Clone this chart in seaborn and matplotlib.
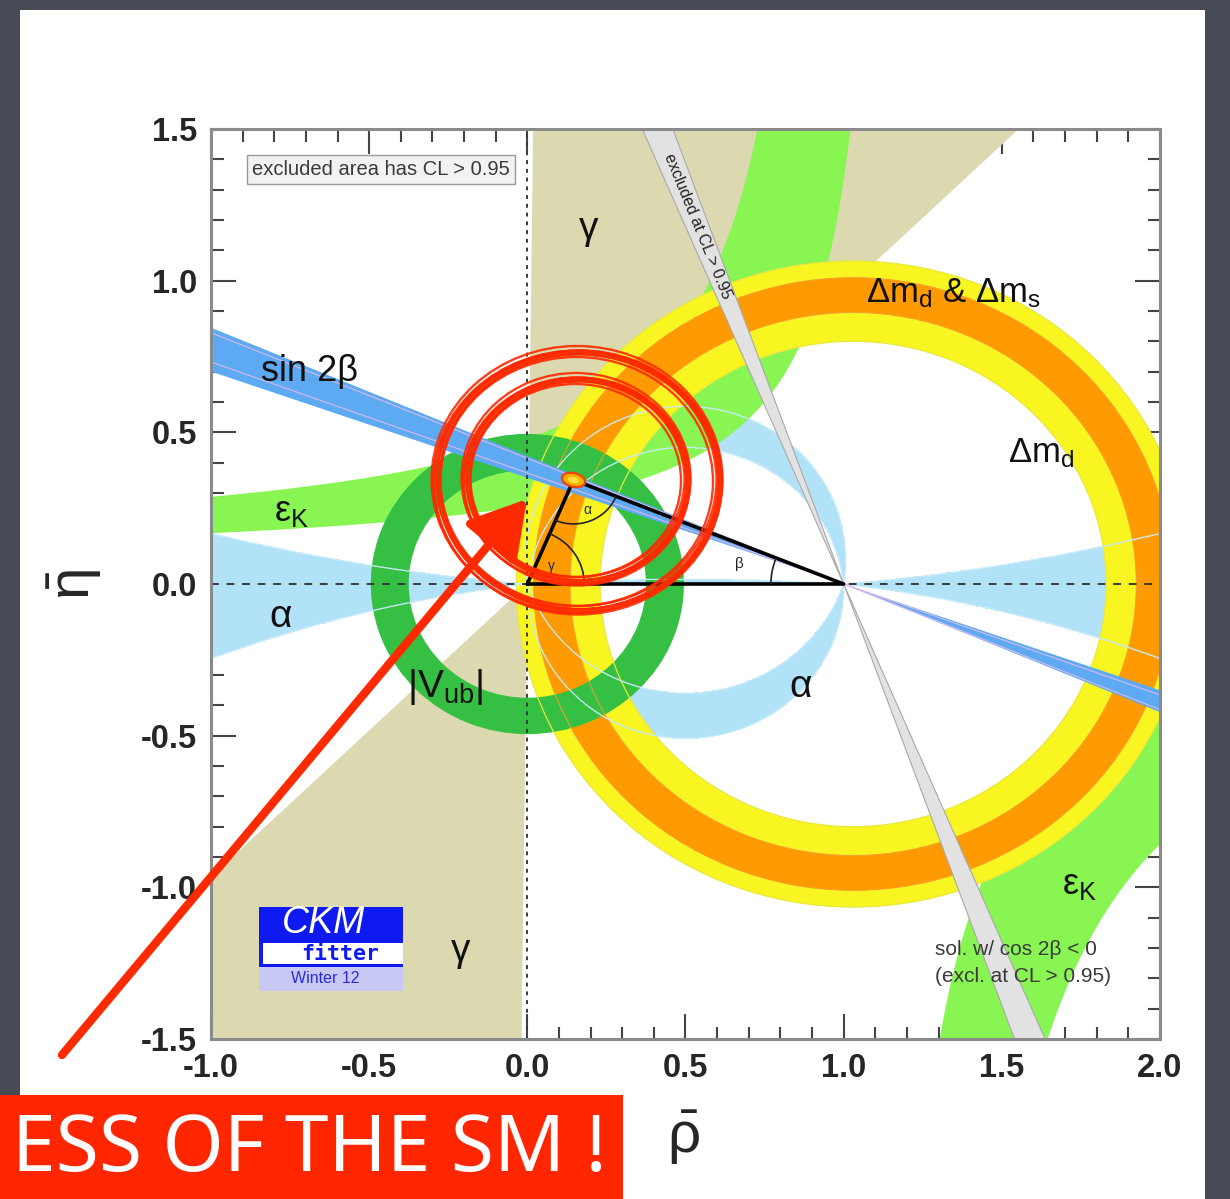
import numpy as np
import pandas as pd
import matplotlib
matplotlib.use("Agg")
import matplotlib.pyplot as plt
import seaborn as sns
from matplotlib.patches import Wedge, Rectangle, Ellipse, Polygon, Arc, Circle

# ---------------- constraint parameters in the (rho-bar, eta-bar) plane ----------------
gamma_deg = [44.0, 89.3]            # gamma wedge seen from (0,0)
alpha_upper_deg = [81.0, 96.0]      # alpha band for eta > 0
alpha_lower_deg = [89.0, 108.5]     # alpha band for eta < 0
alpha_axis_deg = [4.7, 6.8]         # alpha solutions along the real axis (above, below)
alpha_segment_deg = 176.5           # alpha solution just above the unitarity base
beta_deg = [19.3, 22.9]             # sin 2beta wedge from (1,0)
beta_inner_deg = [20.1, 22.5]       # inner sin 2beta contour lines
beta_alt_deg = [67.0, 70.2]         # cos 2beta < 0 solution (excluded)
dm_center = [1.03, 0.0]
dmd_radii = [0.80, 1.065]           # Delta m_d
dms_radii = [0.895, 1.01]           # Delta m_d & Delta m_s
vub_radii = [0.375, 0.495]          # |V_ub|
# eps_K band edges: eta = c / (a - rho) + b
ek_up_a = [1.0, 1.185]
ek_up_c = [0.383, 0.235]
ek_up_b = [0.096, 0.06]
ek_low_a = [1.05, 1.171]
ek_low_c = [0.38, 0.711]
apex = [0.146, 0.343]               # fitted apex of the unitarity triangle

x_ticks = [-1.0, -0.5, 0.0, 0.5, 1.0, 1.5, 2.0]
y_ticks = [-1.5, -1.0, -0.5, 0.0, 0.5, 1.0, 1.5]

# ---------------- colours ----------------
c_gamma = "#DCD9B1"
c_alpha = "#B2E2F8"
c_ek = "#88F552"
c_dmd = "#F8F520"
c_dms = "#FF9A00"
c_vub = "#35C043"
c_s2b = "#5DAAF2"
c_excl = "#E2E2E2"
c_red = "#FF2A00"

sns.set_theme(style="ticks")
plt.rcParams["font.family"] = ["Liberation Sans", "DejaVu Sans"]
plt.rcParams["mathtext.fontset"] = "custom"
plt.rcParams["mathtext.rm"] = "Liberation Sans"
plt.rcParams["mathtext.it"] = "Liberation Sans"
plt.rcParams["mathtext.bf"] = "Liberation Sans:bold"
plt.rcParams["axes.unicode_minus"] = False

W, H = 1230, 1199
fig = plt.figure(figsize=(W / 100, H / 100), dpi=100, facecolor="#464B56")
fig.patches.append(Rectangle((20 / W, 0), 1185 / W, 1189 / H, transform=fig.transFigure,
                             facecolor="white", edgecolor="none", zorder=-10))

ax = fig.add_axes([211 / W, 1 - 1039 / H, 949 / W, 910 / H])
ax.set_xlim(-1, 2)
ax.set_ylim(-1.5, 1.5)
ax.set_facecolor("white")

R = 6.0
# gamma: double wedge through the origin
g1, g2 = np.radians(gamma_deg)
for s in (1, -1):
    ax.add_patch(Polygon([(0, 0), (s * R * np.cos(g1), s * R * np.sin(g1)),
                          (s * R * np.cos(g2), s * R * np.sin(g2))],
                         closed=True, facecolor=c_gamma, edgecolor="none", zorder=1))

# alpha: angle at (rho, eta) seen from (0,0) and (1,0)
rr, ee = np.meshgrid(np.linspace(-1, 2, 1400), np.linspace(-1.5, 1.5, 1400))
theta = np.degrees(np.arctan2(np.abs(ee), ee ** 2 - rr * (1 - rr)))
up = ee >= 0
mask = ((up & (theta >= alpha_upper_deg[0]) & (theta <= alpha_upper_deg[1]))
        | (~up & (theta >= alpha_lower_deg[0]) & (theta <= alpha_lower_deg[1]))
        | (up & (theta <= alpha_axis_deg[0]))
        | (~up & (theta <= alpha_axis_deg[1]))
        | (up & (theta >= alpha_segment_deg)))
ax.contourf(rr, ee, mask.astype(float), levels=[0.5, 1.5], colors=[c_alpha], zorder=2)

# eps_K: hyperbolic band, both branches
rho = np.linspace(-1.05, 2.05, 4000)


def ek_curve(a, c, b=0.0):
    with np.errstate(divide="ignore"):
        return np.clip(c / (a - rho) + b, -5, 5)


top = np.where(rho < ek_up_a[0], ek_curve(ek_up_a[0], ek_up_c[0], ek_up_b[0]), 5)
bot = ek_curve(ek_up_a[1], ek_up_c[1], ek_up_b[1])
ax.fill_between(rho, bot, top, where=rho < ek_up_a[1], facecolor=c_ek, edgecolor="none",
                zorder=3)
top2 = ek_curve(ek_low_a[0], ek_low_c[0])
bot2 = np.where(rho > ek_low_a[1], ek_curve(ek_low_a[1], ek_low_c[1]), -5)
ax.fill_between(rho, bot2, top2, where=rho > ek_low_a[0], facecolor=c_ek, edgecolor="none",
                zorder=3)

# Delta m_d and Delta m_d & Delta m_s rings
ax.add_patch(Wedge(dm_center, dmd_radii[1], 0, 360, width=dmd_radii[1] - dmd_radii[0],
                   facecolor=c_dmd, edgecolor="none", zorder=4))
ax.add_patch(Wedge(dm_center, dms_radii[1], 0, 360, width=dms_radii[1] - dms_radii[0],
                   facecolor=c_dms, edgecolor="none", zorder=5))
# |V_ub| ring
ax.add_patch(Wedge((0, 0), vub_radii[1], 0, 360, width=vub_radii[1] - vub_radii[0],
                   facecolor=c_vub, edgecolor="none", zorder=6))

# thin contour outlines drawn over the filled regions
for r in dmd_radii:
    ax.add_patch(Circle(dm_center, r, fill=False, edgecolor="#E8E840", lw=0.9, zorder=7))
for r in dms_radii:
    ax.add_patch(Circle(dm_center, r, fill=False, edgecolor="#F5A030", lw=0.7, zorder=7))
ax.contour(rr, ee, mask.astype(float), levels=[0.5], colors=["#C8ECFA"], linewidths=0.9,
           zorder=7)

# cos 2beta < 0 solution (grey) and sin 2beta (blue) wedges from (1,0)
def wedge_from_one(angles_deg, color, z, edge=None):
    a1, a2 = np.radians(180 - np.array(angles_deg))
    for s in (1, -1):
        ax.add_patch(Polygon([(1, 0), (1 + s * R * np.cos(a1), s * R * np.sin(a1)),
                              (1 + s * R * np.cos(a2), s * R * np.sin(a2))], closed=True,
                             facecolor=color, edgecolor=edge or "none", lw=0.8, zorder=z))


wedge_from_one(beta_alt_deg, c_excl, 8, edge="#A8A8A8")
wedge_from_one(beta_deg, c_s2b, 9)
for b in beta_inner_deg:
    a = np.radians(180 - b)
    ax.plot([1 - R * np.cos(a), 1 + R * np.cos(a)], [-R * np.sin(a), R * np.sin(a)],
            color="#D8B8F0", lw=0.8, zorder=9)

# reference axes through the origin
ax.axvline(0, color="#3A3A3A", lw=1.4, ls=(0, (2, 2.5)), zorder=10)
ax.axhline(0, color="#3A3A3A", lw=1.4, ls=(0, (4, 4)), zorder=10)

# unitarity triangle
tri = pd.DataFrame({"rho": [0.0, apex[0], 1.0, 0.0], "eta": [0.0, apex[1], 0.0, 0.0]})
sns.lineplot(data=tri, x="rho", y="eta", sort=False, estimator=None, color="black", lw=2.6,
             ax=ax, zorder=12)
ang_o = np.degrees(np.arctan2(-apex[1], -apex[0])) % 360
ang_1 = np.degrees(np.arctan2(-apex[1], 1 - apex[0])) % 360
ax.add_patch(Arc(apex, 0.29, 0.29, theta1=ang_o, theta2=ang_1, color="#222", lw=1.2, zorder=12))
ax.add_patch(Arc((0, 0), 0.36, 0.36, theta1=0, theta2=np.degrees(np.arctan2(apex[1], apex[0])),
                 color="#222", lw=1.2, zorder=12))
ax.add_patch(Arc((1, 0), 0.46, 0.46, theta1=180 - np.degrees(np.arctan2(apex[1], 1 - apex[0])),
                 theta2=180, color="#222", lw=1.2, zorder=12))
ax.add_patch(Ellipse(apex, 0.075, 0.045, angle=-15, facecolor="#FFB000", edgecolor="#F04010",
                     lw=1.6, zorder=13))
ax.add_patch(Ellipse(apex, 0.035, 0.02, angle=-15, facecolor="#FFE040", edgecolor="none",
                     zorder=13))
ax.text(0.19, 0.245, "α", fontsize=10, ha="center", va="center", zorder=14)
ax.text(0.075, 0.06, "γ", fontsize=10, ha="center", va="center", zorder=14)
ax.text(0.67, 0.065, "β", fontsize=11, ha="center", va="center", zorder=14)

# constraint labels
lab = dict(zorder=14, color="#111111")
ax.text(-0.69, 0.70, "sin 2β", fontsize=26, ha="center", va="center", **lab)
ax.text(-0.80, 0.24, "ε$_\\mathrm{K}$", fontsize=26, ha="left", va="center", **lab)
ax.text(-0.78, -0.11, "α", fontsize=28, ha="center", va="center", **lab)
ax.text(-0.26, -0.34, "|V$_\\mathrm{ub}$|", fontsize=28, ha="center", va="center", **lab)
ax.text(0.865, -0.34, "α", fontsize=28, ha="center", va="center", **lab)
ax.text(0.195, 1.17, "γ", fontsize=28, ha="center", va="center", **lab)
ax.text(-0.21, -1.21, "γ", fontsize=28, ha="center", va="center", **lab)
ax.text(1.07, 0.96, "Δm$_\\mathrm{d}$ & Δm$_\\mathrm{s}$", fontsize=25, ha="left",
        va="center", **lab)
ax.text(1.52, 0.43, "Δm$_\\mathrm{d}$", fontsize=25, ha="left", va="center", **lab)
ax.text(1.69, -0.99, "ε$_\\mathrm{K}$", fontsize=26, ha="left", va="center", **lab)

ax.text(0.043, 0.9555, "excluded area has CL > 0.95", transform=ax.transAxes, fontsize=14.5,
        color="#3A3A3A", va="center", ha="left", zorder=15,
        bbox=dict(boxstyle="square,pad=0.25", facecolor="#F2F2F2", edgecolor="#9A9A9A", lw=1))
ax.text(1.288, -1.25, "sol. w/ cos 2β < 0\n(excl. at CL > 0.95)", fontsize=15,
        color="#3A3A3A", ha="left", va="center", linespacing=1.5, zorder=15)

# label along the excluded (grey) band
ac = np.radians(180 - np.mean(beta_alt_deg))
p0 = ax.transData.transform((1, 0))
p1 = ax.transData.transform((1 + np.cos(ac), np.sin(ac)))
rot = np.degrees(np.arctan2(p1[1] - p0[1], p1[0] - p0[0])) - 180
t = 1.18 / np.sin(ac)
ax.text(1 + t * np.cos(ac), 1.18, "excluded at CL > 0.95", rotation=rot, fontsize=11.5,
        ha="center", va="center", rotation_mode="anchor", color="#222222", zorder=15)

# CKMfitter logo
ax.add_patch(Rectangle((0.0506, 0.0791), 0.1517, 0.066, transform=ax.transAxes,
                       facecolor="#0F1AF2", edgecolor="none", zorder=15))
ax.add_patch(Rectangle((0.0548, 0.0824), 0.1475, 0.0231, transform=ax.transAxes,
                       facecolor="white", edgecolor="none", zorder=16))
ax.add_patch(Rectangle((0.0506, 0.0527), 0.1517, 0.0264, transform=ax.transAxes,
                       facecolor="#C8C8F5", edgecolor="none", zorder=15))
ax.text(0.119, 0.128, "CKM", transform=ax.transAxes, fontsize=27, style="italic",
        color="white", ha="center", va="center", zorder=17)
ax.text(0.1365, 0.0935, "fitter", transform=ax.transAxes, fontsize=15.5, weight="bold",
        family="DejaVu Sans Mono", color="#0F1AF2", ha="center", va="center", zorder=17)
ax.text(0.12, 0.066, "Winter 12", transform=ax.transAxes, fontsize=11.5, color="#2A2AE0",
        ha="center", va="center", zorder=17)

# axes frame and ticks
ax.set_xticks(x_ticks)
ax.set_yticks(y_ticks)
ax.set_xticks(np.arange(-1, 2.001, 0.1), minor=True)
ax.set_yticks(np.arange(-1.5, 1.501, 0.1), minor=True)
ax.set_xticklabels([f"{v:.1f}" for v in x_ticks])
ax.set_yticklabels([f"{v:.1f}" for v in y_ticks])
ax.tick_params(which="both", direction="in", top=True, right=True, color="#444444",
               width=1.5)
ax.tick_params(which="major", length=18, labelsize=23.5, pad=10)
ax.tick_params(which="minor", length=9)
for lbl in ax.get_xticklabels() + ax.get_yticklabels():
    lbl.set_fontweight("bold")
for sp in ax.spines.values():
    sp.set_color("#8A8A8A")
    sp.set_linewidth(2.2)
    sp.set_zorder(20)
ax.set_xlabel("")
ax.set_ylabel("")

fig.text(683 / W, 1 - 1138 / H, r"$\bar{\rho}$", fontsize=42, ha="center", va="center")
fig.text(75 / W, 1 - 585 / H, r"$\bar{\eta}$", fontsize=42, ha="center", va="center",
         rotation=90)

# slide annotations: hand-drawn circles, arrow and banner
ov = fig.add_axes([0, 0, 1, 1], zorder=30)
ov.set_xlim(0, W)
ov.set_ylim(H, 0)
ov.axis("off")
ov.patch.set_alpha(0)
strokes = [(-1.5, 0.5, -9), (0.5, -1.0, -6), (1.0, 1.0, -3), (-0.5, -0.5, 0), (1.5, 0.0, 3),
           (0.0, 1.5, 6), (-1.0, -1.5, 9), (2.0, -0.5, -1), (-2.0, 1.0, 4)]
for cx, cy, rx, ry in [(578, 481, 141, 129), (577, 480, 110, 101)]:
    for dx, dy, dr in strokes:
        ov.add_patch(Ellipse((cx + dx, cy + dy), 2 * rx + dr, 2 * ry + dr, fill=False,
                             edgecolor=c_red, lw=1.7, alpha=0.9))
ov.annotate("", xy=(527, 499), xytext=(62, 1055),
            arrowprops=dict(arrowstyle="-|>,head_length=0.85,head_width=0.5", color=c_red,
                            lw=6, mutation_scale=40, shrinkA=0, shrinkB=0))
ov.add_patch(Rectangle((0, 1095), 623, 104, facecolor="#FF2600", edgecolor="none"))
ov.text(607, 1150, "ESS OF THE SM !", fontsize=56.5, color="white", ha="right", va="center",
        family="Noto Sans")

fig.savefig("out.png", dpi=100, facecolor=fig.get_facecolor())
